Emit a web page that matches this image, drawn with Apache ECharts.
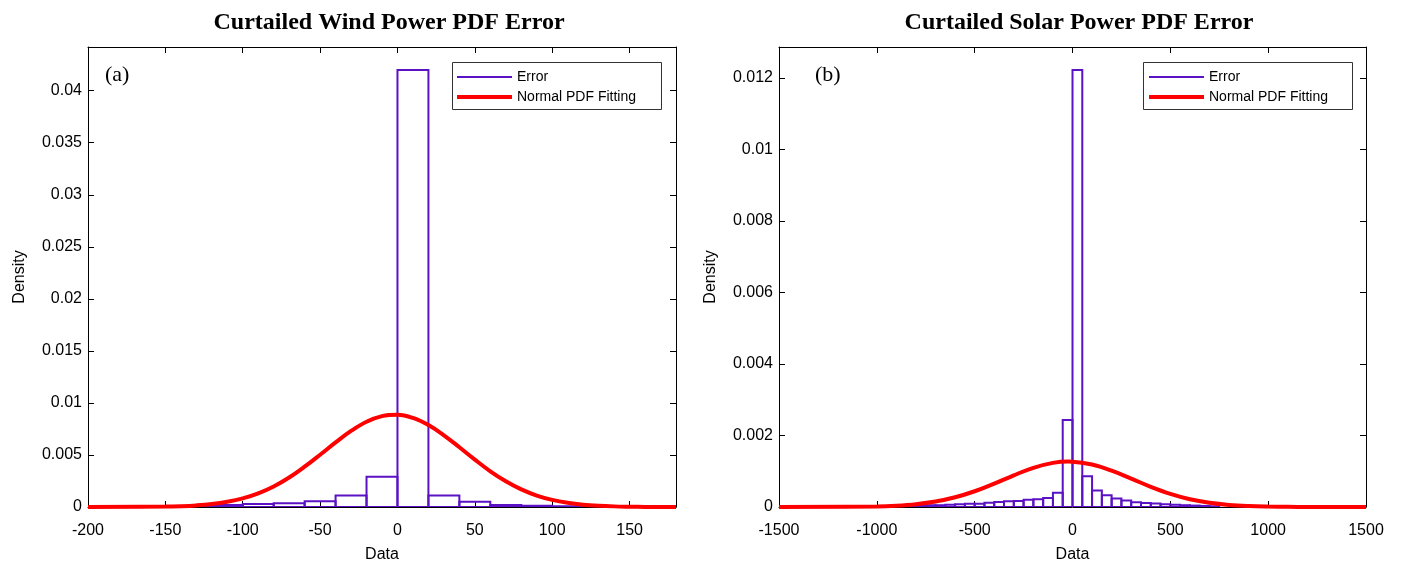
<!DOCTYPE html>
<html><head><meta charset="utf-8">
<script src="https://cdn.jsdelivr.net/npm/echarts@6/dist/echarts.min.js"></script>
<style>html,body{margin:0;padding:0;background:#fff}#c{width:1403px;height:568px}</style>
</head><body><div id="c"></div>
<script>
// ---- Data ----
const windBinLeft = [-200,-180,-160,-140,-120,-100,-80,-60,-40,-20,0,20,40,60,80,100,120];
const windBinWidth = 20;
const windDensity = [0,0.0001,0.00005,0.00008,0.0002,0.0003,0.00035,0.00055,0.0011,0.0029,0.042,0.0011,0.0005,0.0002,0.00012,0.00008,0.00002];
const windFitX = [-200,-150,-140,-130,-120,-110,-100,-90,-80,-70,-60,-50,-40,-30,-20,-10,0,10,20,30,40,50,60,70,80,90,100,110,120,130,140,150,160,180];
const windFitY = [0,0.00004,0.00008,0.000155,0.000285,0.0005,0.00083,0.00131,0.00197,0.00283,0.00387,0.00502,0.00621,0.00731,0.00819,0.00873,0.00886,0.00856,0.00787,0.00689,0.00574,0.00455,0.00343,0.00247,0.00169,0.0011,0.00068,0.0004,0.000225,0.00012,0.00006,0.00003,0.00001,0];

const solarBinLeft = [-950,-900,-850,-800,-750,-700,-650,-600,-550,-500,-450,-400,-350,-300,-250,-200,-150,-100,-50,0,50,100,150,200,250,300,350,400,450,500,550,600,650,700];
const solarBinWidth = 50;
const solarDensity = [0.00001,0.00002,0.00003,0.00004,0.00005,0.00005,0.00006,0.00008,0.00009,0.00009,0.00012,0.00014,0.00016,0.00017,0.0002,0.00022,0.00025,0.0004,0.00243,0.01222,0.00086,0.00046,0.00033,0.00024,0.00018,0.00013,0.00011,0.0001,0.00008,0.00006,0.00005,0.00004,0.00003,0.00002];
const solarFitX = [-1500,-1000,-900,-800,-700,-600,-500,-400,-300,-200,-100,-20,0,100,200,300,400,500,600,700,800,900,1000,1100,1200,1500];
const solarFitY = [0,0.0000155,0.000036,0.000078,0.000152,0.000271,0.00044,0.000654,0.000886,0.001095,0.001233,0.00127,0.001268,0.001189,0.001017,0.000794,0.000565,0.000367,0.000217,0.000118,0.000058,0.000026,0.0000107,0.000004,0,0];

const windXTicks = {min:-200, max:180, interval:50, showMax:false};
const windYTicks = {min:0, max:0.0442, interval:0.005, showMax:false};
const solarXTicks = {min:-1500, max:1500, interval:500, showMax:true};
const solarYTicks = {min:0, max:0.01286, interval:0.002, showMax:false};

// ---- Styles ----
const PURPLE = '#5b12c4';
const RED = '#ff0000';
const SANS = 'Liberation Sans, Arial, sans-serif';
const SERIF = 'Liberation Serif, Times New Roman, serif';

const chart = echarts.init(document.getElementById('c'), null, {renderer:'canvas'});

function hist(left, width, dens){ return left.map((x,i)=>[x, x+width, dens[i]]); }
function pairs(xs, ys){ return xs.map((x,i)=>[x, ys[i]]); }
const fmt = v => String(parseFloat(v.toFixed(6)));

function xAx(g, t, main){
  return {gridIndex:g, type:'value', min:t.min, max:t.max, interval:t.interval,
    position: main ? 'bottom' : 'top',
    axisLine:{show:true, onZero:false, lineStyle:{color:'#000', width:1}},
    axisTick:{show:true, inside:true, length:6, lineStyle:{color:'#000'}},
    axisLabel:{show:main, fontSize:16, color:'#000', fontFamily:SANS, margin:16, formatter:fmt,
      showMaxLabel:t.showMax, showMinLabel:true},
    splitLine:{show:false},
    name: main ? 'Data' : '', nameLocation:'middle', nameGap:40,
    nameTextStyle:{fontSize:16, color:'#000', fontFamily:SANS}};
}
function yAx(g, t, main){
  return {gridIndex:g, type:'value', min:t.min, max:t.max, interval:t.interval,
    position: main ? 'left' : 'right',
    axisLine:{show:true, onZero:false, lineStyle:{color:'#000', width:1}},
    axisTick:{show:true, inside:true, length:6, lineStyle:{color:'#000'}},
    axisLabel:{show:main, fontSize:16, color:'#000', fontFamily:SANS, margin:6, formatter:fmt,
      showMaxLabel:t.showMax, showMinLabel:true},
    splitLine:{show:false},
    name: main ? 'Density' : '', nameLocation:'middle', nameGap:60,
    nameTextStyle:{fontSize:16, color:'#000', fontFamily:SANS}};
}
function renderBar(params, api){
  const p0 = api.coord([api.value(0), api.value(2)]);
  const p1 = api.coord([api.value(1), 0]);
  return {type:'rect', shape:{x:p0[0], y:p0[1], width:p1[0]-p0[0], height:p1[1]-p0[1]},
    style:{fill:'none', stroke:PURPLE, lineWidth:2}};
}
function legendPair(lineLeft){
  return [
    {data:[{name:'Error'}], left:lineLeft, top:70, padding:0, itemWidth:55, itemHeight:2, icon:'rect',
      textStyle:{fontSize:14, color:'#000', fontFamily:SANS}, selectedMode:false, z:20},
    {data:[{name:'Normal PDF Fitting'}], left:lineLeft, top:90, padding:0, itemWidth:55, itemHeight:4, icon:'rect',
      textStyle:{fontSize:14, color:'#000', fontFamily:SANS}, selectedMode:false, z:20}
  ];
}

const option = {
  backgroundColor:'#fff',
  animation:false,
  title:[
    {text:'Curtailed Wind Power PDF Error', left:384, top:6, textAlign:'center',
      textStyle:{fontFamily:SERIF, fontWeight:'bold', fontSize:24, color:'#000'}},
    {text:'Curtailed Solar Power PDF Error', left:1074, top:6, textAlign:'center',
      textStyle:{fontFamily:SERIF, fontWeight:'bold', fontSize:24, color:'#000'}}
  ],
  grid:[
    {left:88, right:727, top:47, bottom:57, containLabel:false},
    {left:779, right:37, top:47, bottom:57, containLabel:false}
  ],
  legend: legendPair(457).concat(legendPair(1149)),
  xAxis:[xAx(0,windXTicks,true), xAx(0,windXTicks,false), xAx(1,solarXTicks,true), xAx(1,solarXTicks,false)],
  yAxis:[yAx(0,windYTicks,true), yAx(0,windYTicks,false), yAx(1,solarYTicks,true), yAx(1,solarYTicks,false)],
  series:[
    {name:'Error', type:'custom', xAxisIndex:0, yAxisIndex:0, renderItem:renderBar,
      encode:{x:[0,1], y:2}, data:hist(windBinLeft, windBinWidth, windDensity),
      itemStyle:{color:PURPLE}, clip:true},
    {name:'Normal PDF Fitting', type:'line', xAxisIndex:0, yAxisIndex:0, data:pairs(windFitX, windFitY),
      smooth:0.4, showSymbol:false, lineStyle:{color:RED, width:4}, itemStyle:{color:RED}, z:5},
    {name:'Error', type:'custom', xAxisIndex:2, yAxisIndex:2, renderItem:renderBar,
      encode:{x:[0,1], y:2}, data:hist(solarBinLeft, solarBinWidth, solarDensity),
      itemStyle:{color:PURPLE}, clip:true},
    {name:'Normal PDF Fitting', type:'line', xAxisIndex:2, yAxisIndex:2, data:pairs(solarFitX, solarFitY),
      smooth:0.4, showSymbol:false, lineStyle:{color:RED, width:4}, itemStyle:{color:RED}, z:5}
  ],
  graphic:[
    {type:'rect', shape:{x:452.5, y:62.5, width:209, height:47}, style:{fill:'#fff', stroke:'#333', lineWidth:1}, z:10},
    {type:'rect', shape:{x:1143.5, y:62.5, width:209, height:47}, style:{fill:'#fff', stroke:'#333', lineWidth:1}, z:10},
    {type:'text', left:105, top:64, style:{text:'(a)', font:'22px '+SERIF, fill:'#000'}, z:10},
    {type:'text', left:815, top:64, style:{text:'(b)', font:'22px '+SERIF, fill:'#000'}, z:10}
  ]
};
chart.setOption(option);
</script></body></html>
